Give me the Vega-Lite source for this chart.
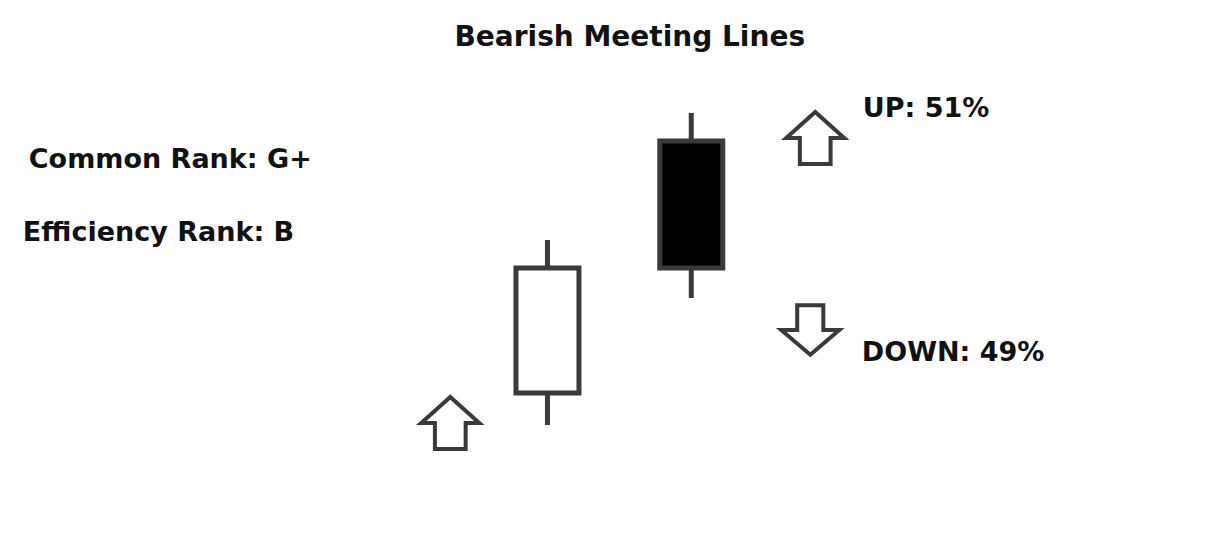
{
  "$schema": "https://vega.github.io/schema/vega-lite/v6.json",
  "width": 1206,
  "height": 543,
  "autosize": {"type": "fit", "contains": "padding"},
  "padding": 0,
  "background": "#ffffff",
  "config": {"view": {"stroke": null}},
  "datasets": {
    "candles": [
      {"day": "Day 1", "x": 547, "open": 150, "close": 275, "high": 303, "low": 118, "kind": "bull"},
      {"day": "Day 2", "x": 692, "open": 402, "close": 275, "high": 430, "low": 245, "kind": "bear"}
    ],
    "arrows": [
      {"x": 449, "y": 120, "dir": "up"},
      {"x": 817, "y": 405, "dir": "up"},
      {"x": 812, "y": 213, "dir": "down"}
    ],
    "titles": [
      {"x": 630, "y": 497, "text": "Bearish Meeting Lines"}
    ],
    "labels": [
      {"x": 24, "y": 375, "text": "Common Rank: G+"},
      {"x": 18, "y": 302, "text": "Efficiency Rank: B"},
      {"x": 865, "y": 426, "text": "UP: 51%"},
      {"x": 864, "y": 182, "text": "DOWN: 49%"}
    ]
  },
  "encoding": {
    "x": {"field": "x", "type": "quantitative", "scale": {"domain": [0, 1206], "nice": false, "zero": false}, "axis": null}
  },
  "layer": [
    {
      "data": {"name": "candles"},
      "mark": {"type": "rule", "color": "#3a3a3a", "strokeWidth": 5},
      "encoding": {
        "y": {"field": "low", "type": "quantitative", "scale": {"domain": [0, 543], "nice": false, "zero": false}, "axis": null},
        "y2": {"field": "high"}
      }
    },
    {
      "data": {"name": "candles"},
      "mark": {"type": "bar", "size": 63, "stroke": "#3a3a3a", "strokeWidth": 5},
      "encoding": {
        "y": {"field": "open", "type": "quantitative", "scale": {"domain": [0, 543], "nice": false, "zero": false}, "axis": null},
        "y2": {"field": "close"},
        "fill": {"field": "kind", "type": "nominal", "scale": {"domain": ["bull", "bear"], "range": ["#ffffff", "#000000"]}, "legend": null}
      }
    },
    {
      "data": {"name": "arrows"},
      "transform": [{"filter": "datum.dir === 'up'"}],
      "mark": {"type": "point", "filled": false, "fill": "#ffffff", "fillOpacity": 1, "stroke": "#3a3a3a", "strokeWidth": 4, "opacity": 1, "size": 3364,
        "shape": "M0,-0.9 L1,0 L0.53,0 L0.53,0.9 L-0.53,0.9 L-0.53,0 L-1,0 Z"},
      "encoding": {
        "y": {"field": "y", "type": "quantitative", "scale": {"domain": [0, 543], "nice": false, "zero": false}, "axis": null}
      }
    },
    {
      "data": {"name": "arrows"},
      "transform": [{"filter": "datum.dir === 'down'"}],
      "mark": {"type": "point", "filled": false, "fill": "#ffffff", "fillOpacity": 1, "stroke": "#3a3a3a", "strokeWidth": 4, "opacity": 1, "size": 3364,
        "shape": "M0,0.85 L1,0 L0.45,0 L0.45,-0.85 L-0.45,-0.85 L-0.45,0 L-1,0 Z"},
      "encoding": {
        "y": {"field": "y", "type": "quantitative", "scale": {"domain": [0, 543], "nice": false, "zero": false}, "axis": null}
      }
    },
    {
      "data": {"name": "titles"},
      "mark": {"type": "text", "font": "DejaVu Sans", "fontWeight": "bold", "fontSize": 28, "color": "#111111", "baseline": "alphabetic", "align": "center"},
      "encoding": {
        "y": {"field": "y", "type": "quantitative", "scale": {"domain": [0, 543], "nice": false, "zero": false}, "axis": null},
        "text": {"field": "text"}
      }
    },
    {
      "data": {"name": "labels"},
      "mark": {"type": "text", "font": "DejaVu Sans", "fontWeight": "bold", "fontSize": 27, "color": "#111111", "baseline": "alphabetic", "align": "left"},
      "encoding": {
        "y": {"field": "y", "type": "quantitative", "scale": {"domain": [0, 543], "nice": false, "zero": false}, "axis": null},
        "text": {"field": "text"}
      }
    }
  ]
}
